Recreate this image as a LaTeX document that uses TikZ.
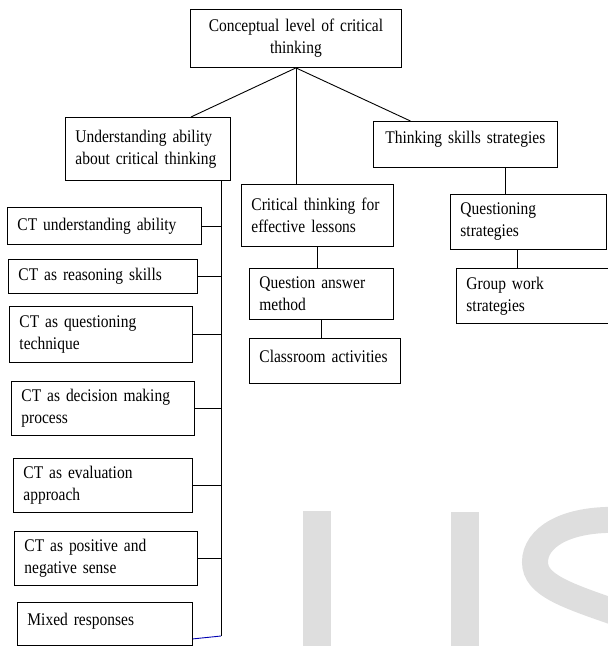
\documentclass[tikz,border=0pt]{standalone}
\usepackage{fontspec}
\setmainfont{Liberation Serif}[FakeStretch=0.87]
\usepackage{tikz}
\definecolor{wmgray}{HTML}{DEDEDE}

\begin{document}
\begin{tikzpicture}[x=1pt,y=-1pt,
        every node/.style={font=\fontsize{17.8}{22}\selectfont},
        box/.style 2 args={draw,line width=0.9pt,anchor=north west,inner xsep=10pt,inner ysep=0pt,
            align=left,text width=#1,minimum height=#2},
        link/.style={line width=0.9pt},
        wmark/.style={wmgray}]
        \useasboundingbox (0,0) rectangle (608,646);
        \fill[wmark] (303,511) rectangle (331,650);
        \fill[wmark] (451,512) rectangle (479,650);
        \draw[wmark,line width=26pt] (620,520) .. controls (565,518) and (535,538) .. (535,562)
            .. controls (535,585) and (565,595) .. (620,614);
        \node[box={191pt}{58pt},align=center] (top) at (190,9) {Conceptual level of critical\\thinking};
        \node[box={145pt}{63pt}] (und) at (65,117) {Understanding ability\\about critical thinking};
        \node[box={160pt}{46pt},inner xsep=12pt,text depth=13.5pt] (think) at (373,121) {Thinking skills strategies};
        \node[box={132pt}{62pt}] (crit) at (241,184) {Critical thinking for\\effective lessons};
        \node[box={136pt}{55pt}] (quest) at (450,194) {Questioning\\strategies};
        \node[box={131.5pt}{55pt}] (group) at (456,268) {Group work\\strategies};
        \node[box={124pt}{51pt}] (qa) at (249,268) {Question answer\\method};
        \node[box={131pt}{45pt},text depth=8.5pt] (class) at (249,338) {Classroom activities};
        \node[box={174pt}{37pt}] (ctu) at (7,207) {CT understanding ability};
        \node[box={169pt}{34pt}] (ctr) at (8,259) {CT as reasoning skills};
        \node[box={163pt}{56pt}] (ctq) at (9,306) {CT as questioning\\technique};
        \node[box={163pt}{54pt}] (ctd) at (11,381) {CT as decision making\\process};
        \node[box={159pt}{54pt}] (cte) at (13,458) {CT as evaluation\\approach};
        \node[box={163pt}{54pt}] (ctp) at (14,531) {CT as positive and\\negative sense};
        \node[box={155pt}{43pt},text depth=9.5pt] (mixed) at (17,602) {Mixed responses};
        \coordinate (trunk) at (221,636);
        \draw[link] (top.south) -- ([xshift=43pt]und.north);
        \draw[link] (top.south) -- (top.south |- crit.north);
        \draw[link] (top.south) -- ([xshift=-55pt]think.north);
        \draw[link] ([xshift=40pt]think.south) -- ([xshift=40pt]think.south |- quest.north);
        \draw[link] ([xshift=-11pt]quest.south) -- ([xshift=-11pt]quest.south |- group.north);
        \draw[link] (crit.south) -- (crit.south |- qa.north);
        \draw[link] (qa.south) -- (qa.south |- class.north);
        \draw[link] (und.south -| trunk) -- (trunk);
        \foreach \b in {ctu,ctr,ctq,ctd,cte,ctp}
            \draw[link] (\b.east) -- (\b.east -| trunk);
        \draw[link,blue!70!black] ([yshift=7pt]mixed.south east) -- (trunk);
\end{tikzpicture}
\end{document}
